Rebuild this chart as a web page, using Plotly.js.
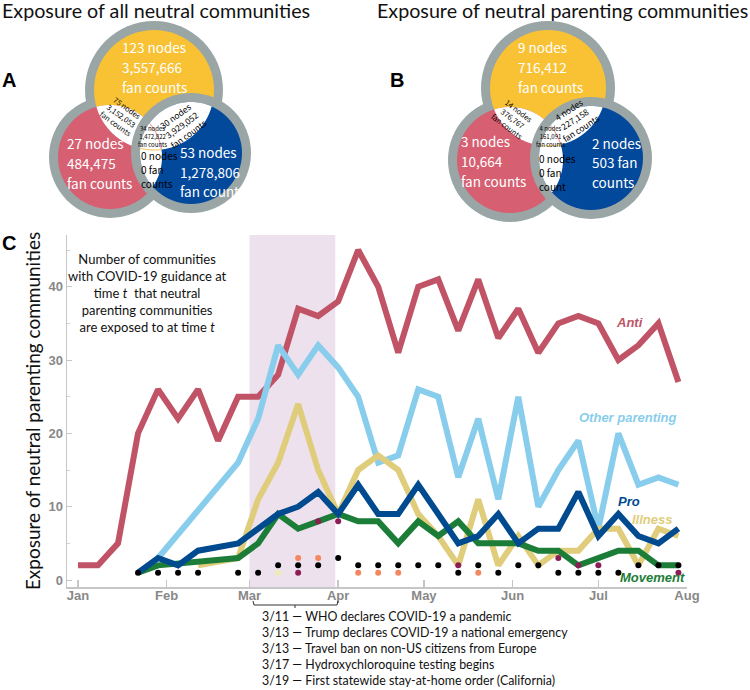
<!DOCTYPE html>
<html>
<head>
<meta charset="utf-8">
<script src="https://cdn.plot.ly/plotly-3.0.1.min.js"></script>
<style>html,body{margin:0;padding:0;background:#fff;}#chart{width:750px;height:690px;}</style>
</head>
<body>
<div id="chart"></div>
<script>
// ---------------- DATA ----------------
const weeks = ['2020-01-01','2020-01-08','2020-01-15','2020-01-22','2020-01-29','2020-02-05','2020-02-12','2020-02-19','2020-02-26','2020-03-04','2020-03-11','2020-03-18','2020-03-25','2020-04-01','2020-04-08','2020-04-15','2020-04-22','2020-04-29','2020-05-06','2020-05-13','2020-05-20','2020-05-27','2020-06-03','2020-06-10','2020-06-17','2020-06-24','2020-07-01','2020-07-08','2020-07-15','2020-07-22','2020-07-29'];
const anti           = [2,2,5,20,26,22,26,19,25,25,28,37,36,38,45,40,31,40,41,34,41,33,37,31,35,36,35,30,32,35,27];
const otherParenting = [null,null,null,null,3,null,null,null,16,22,32,28,32,29,25,16,17,26,25,14,22,11,25,10,15,19,7,20,13,14,13];
const illness        = [null,null,null,null,null,null,2,null,3,11,16,24,15,9,15,17,15,9,6,2,11,2,6,2,4,4,7,7,2,7,6];
const pro            = [null,null,null,1,3,2,4,null,5,7,9,10,12,9,13,9,9,13,9,5,6,9,5,7,7,12,6,9,6,5,7];
const movement       = [null,null,null,1,2,null,null,null,3,5,9,7,8,9,8,8,5,8,6,8,5,5,5,4,4,2,3,4,4,2,2];
const blackDots  = [null,null,null,1,1,1,1,null,1,1,2,2,2,3,2,2,2,2,2,1,2,1,2,2,1,1,1,1,2,2,2];
const orangeDots = [null,null,null,null,null,null,null,null,null,null,null,3,3,null,1,1,1,null,null,null,1,null,null,null,null,null,null,null,null,null,null];
const purpleDots = [null,null,null,null,null,null,null,null,null,null,null,1,8,8,null,null,null,null,null,2,null,null,null,null,3,2,2,null,null,null,1];
const creamDots  = [null,null,null,null,null,null,null,null,null,null,1,null,null,null,null,null,null,null,null,null,null,null,null,null,null,null,null,null,null,null,null];
const monthTicks = ['2020-01-01','2020-02-01','2020-03-01','2020-04-01','2020-05-01','2020-06-01','2020-07-01','2020-08-01'];
const monthLabels = ['Jan','Feb','Mar','Apr','May','Jun','Jul','Aug'];
const yTicks = [0,10,20,30,40];
const eventDates = ['3/11','3/13','3/13','3/17','3/19'];
const eventTexts = ['WHO declares COVID-19 a pandemic','Trump declares COVID-19 a national emergency','Travel ban on non-US citizens from Europe','Hydroxychloroquine testing begins','First statewide stay-at-home order (California)'];
// Venn labels
const vennA = {title:'Exposure of all neutral communities', yellow:'123 nodes<br>3,557,666<br>fan counts', red:'27 nodes<br>484,475<br>fan counts', blue:'53 nodes<br>1,278,806<br>fan counts', yr:'75 nodes<br>3,152,053<br>fan counts', yb:'30 nodes<br>3,929,052<br>fan counts', yrb:'34 nodes<br>1,472,822<br>fan counts', rb:'0 nodes<br>0 fan<br>counts'};
const vennB = {title:'Exposure of neutral parenting communities', yellow:'9 nodes<br>716,412<br>fan counts', red:'3 nodes<br>10,664<br>fan counts', blue:'2 nodes<br>503 fan<br>counts', yr:'14 nodes<br>376,767<br>fan counts', yb:'4 nodes<br>227,158<br>fan counts', yrb:'4 nodes<br>161,091<br>fan counts', rb:'0 nodes<br>0 fan<br>count'};

// ---------------- STYLE / GEOMETRY ----------------
const PL=67, PR=687, PT=235, PB=587;
const px = X => (X-PL)/(PR-PL);
const py = Y => (PB-Y)/(PB-PT);
const C = {anti:'#c05466', other:'#89cdec', ill:'#e0cd7c', pro:'#004a8f', mov:'#1b7d37',
           vy:'#f8c234', vr:'#d65f72', vb:'#02489b', ring:'#9aa5a6'};
const txtFont = 'Lato, "Open Sans", sans-serif';
const vennFont = '"Liberation Sans Narrow", "Noto Sans CJK SC", Lato, sans-serif';
const boldFont = '"Liberation Sans", Arial, sans-serif';

function inside(p,c){return Math.hypot(p[0]-c.x,p[1]-c.y) <= c.r+1e-9;}
function toPath(pts, close){
  return pts.map((p,i)=>(i?'L':'M')+px(p[0]).toFixed(5)+','+py(p[1]).toFixed(5)).join(' ')+(close?' Z':'');
}
function lensPath(a,b){
  const pts=[]; const N=720;
  for(let i=0;i<N;i++){const t=i/N*2*Math.PI;
    const p=[a.x+a.r*Math.cos(t),a.y+a.r*Math.sin(t)]; if(inside(p,b)) pts.push(p);
    const q=[b.x+b.r*Math.cos(t),b.y+b.r*Math.sin(t)]; if(inside(q,a)) pts.push(q);}
  const cx=pts.reduce((s,p)=>s+p[0],0)/pts.length, cy=pts.reduce((s,p)=>s+p[1],0)/pts.length;
  pts.sort((m,n)=>Math.atan2(m[1]-cy,m[0]-cx)-Math.atan2(n[1]-cy,n[0]-cx));
  return toPath(pts,true);
}
function arcPath(c, others){
  const N=720, P=[], F=[];
  for(let i=0;i<N;i++){const t=i/N*2*Math.PI; const p=[c.x+c.r*Math.cos(t),c.y+c.r*Math.sin(t)];
    P.push(p); F.push(others.every(o=>inside(p,o)));}
  let s=F.indexOf(false); const runs=[]; let cur=null;
  for(let k=0;k<=N;k++){const i=(s+k)%N; if(F[i]){if(!cur){cur=[];runs.push(cur);} cur.push(P[i]);} else cur=null;}
  return runs.map(r=>toPath(r,false)).join(' ');
}
function disk(c,color){return {type:'circle',xref:'paper',yref:'paper',layer:'above',x0:px(c.x-c.r),x1:px(c.x+c.r),y0:py(c.y+c.r),y1:py(c.y-c.r),fillcolor:color,line:{width:0}};}
function pathShape(d,fill,lineColor,lw){return {type:'path',xref:'paper',yref:'paper',layer:'above',path:d,fillcolor:fill||'rgba(0,0,0,0)',line:{color:lineColor||'rgba(0,0,0,0)',width:lw||0}};}

function venn(g){
  const ring=9;
  const Yo={x:g.y[0],y:g.y[1],r:g.y[2]}, Ro={x:g.r[0],y:g.r[1],r:g.r[2]}, Bo={x:g.b[0],y:g.b[1],r:g.b[2]};
  const Yi={x:Yo.x,y:Yo.y,r:Yo.r-ring}, Ri={x:Ro.x,y:Ro.y,r:Ro.r-ring}, Bi={x:Bo.x,y:Bo.y,r:Bo.r-ring};
  return [
    disk(Yo,C.ring), disk(Ro,C.ring), disk(Yi,C.vy), disk(Ri,C.vr),
    pathShape(lensPath(Yi,Ri),'#ffffff'),
    disk(Bo,C.ring), disk(Bi,C.vb),
    pathShape(lensPath(Bi,Yi),'#ffffff'), pathShape(lensPath(Bi,Ri),'#ffffff'),
    pathShape(arcPath(Ri,[Bi,Yi]),null,'#e46a7c',1),
    pathShape(arcPath(Yi,[Bi,Ri]),null,'#f2bc2c',1)
  ];
}
const geomA = {y:[154,90,69], r:[110,157,61], b:[191,153,60]};
const geomB = {y:[548,88,67], r:[510,160,62], b:[591,158,61]};

function ann(X,Y,text,opt){
  opt=opt||{};
  return Object.assign({xref:'paper',yref:'paper',x:px(X),y:py(Y),text:text,showarrow:false,
    xanchor:'center',yanchor:'middle',align:'center',borderpad:0,
    font:{family:txtFont,size:13,color:'#000'}},opt);
}
// one annotation per line so the line spacing can follow the reference
function lines(X,Y0,dy,text,font){
  return text.split('<br>').map((t,i)=>ann(X,Y0+i*dy,t,{xanchor:'left',align:'left',font:font}));
}
function vennAnns(v,p){
  const wf={family:vennFont,size:13.5,color:'#fff'};
  const bf=(s)=>({family:vennFont,size:s,color:'#000'});
  return [
    ann(p.title[0],p.title[1],v.title,{font:{family:txtFont,size:19.7,color:'#111'}})
  ].concat(
    lines(p.yellow[0],p.yellow[1],20,v.yellow,wf),
    lines(p.red[0],p.red[1],20,v.red,wf),
    lines(p.blue[0],p.blue[1],19.5,v.blue,wf),
    lines(p.rb[0],p.rb[1],14,v.rb,bf(10)),
    [ann(p.yrb[0],p.yrb[1],v.yrb,{font:bf(6)}),
     ann(p.yr[0],p.yr[1],v.yr,{font:bf(7.5),textangle:p.yrA}),
     ann(p.yb[0],p.yb[1],v.yb,{font:bf(8.5),textangle:p.ybA})]
  );
}
const posA = {title:[156,10], yellow:[121,47], red:[66,143], blue:[179,152], rb:[140,155], yrb:[152,136], yr:[121,116], yrA:36, yb:[181,125], ybA:-36};
const posB = {title:[562,10], yellow:[517,47], red:[460,141], blue:[591,143], rb:[538,158], yrb:[550,136], yr:[513,118], yrA:37, yb:[574,119], ybA:-33};

// ---------------- TRACES ----------------
function lineTrace(name,y,color){return {type:'scatter',mode:'lines',name:name,x:weeks,y:y,connectgaps:true,
  line:{color:color,width:6,shape:'linear'},hoverinfo:'x+y+name'};}
function dotTrace(name,y,color){return {type:'scatter',mode:'markers',name:name,x:weeks,y:y,
  marker:{color:color,size:6,line:{width:0}}};}
const traces = [
  lineTrace('Anti',anti,C.anti),
  lineTrace('Other parenting',otherParenting,C.other),
  lineTrace('Illness',illness,C.ill),
  lineTrace('Movement',movement,C.mov),
  lineTrace('Pro',pro,C.pro),
  dotTrace('black',blackDots,'#000000'),
  dotTrace('orange',orangeDots,'#f3875f'),
  dotTrace('purple',purpleDots,'#8c1d55'),
  dotTrace('cream',creamDots,'#ecebb4')
];

// ---------------- LAYOUT ----------------
const shapes = [
  {type:'rect',xref:'x',yref:'paper',x0:'2020-03-01',x1:'2020-03-31',y0:0,y1:1,fillcolor:'#ede1ee',line:{width:0},layer:'below'},
  pathShape('M'+px(253)+','+py(601)+' L'+px(254)+','+py(605)+' L'+px(337)+','+py(605)+' L'+px(338)+','+py(601)+' M'+px(295)+','+py(605)+' L'+px(295)+','+py(608),null,'#333',1)
].concat(venn(geomA), venn(geomB));

const labelFont = (c)=>({family:boldFont,size:13,color:c,weight:'bold',style:'italic'});
const panelFont = {family:boldFont,size:20,color:'#000',weight:'bold'};
const annotations = [
  ann(9,80,'A',{font:panelFont}),
  ann(397,80,'B',{font:panelFont}),
  ann(9,243,'C',{font:panelFont}),
  ann(147,293,'Number of communities<br>with COVID-19 guidance at<br>time <i>t</i>  that neutral<br>parenting communities<br>are exposed to at time <i>t</i>',{font:{family:txtFont,size:13,color:'#111'}}),
  ann(629,322,'Anti',{font:labelFont(C.anti)}),
  ann(628,417,'Other parenting',{font:labelFont(C.other)}),
  ann(629,501,'Pro',{font:labelFont(C.pro)}),
  ann(652,519,'Illness',{font:labelFont(C.ill)}),
  ann(652,577,'Movement',{font:labelFont(C.mov)}),
  ann(261,608,eventDates.map((d,i)=>d+' — '+eventTexts[i]).join('<br>'),{xanchor:'left',yanchor:'top',align:'left',font:{family:txtFont,size:12.4,color:'#111'}})
].concat(vennAnns(vennA,posA), vennAnns(vennB,posB));

const layout = {
  width:750, height:690,
  margin:{l:PL,r:750-PR,t:PT,b:690-PB,pad:0},
  paper_bgcolor:'#ffffff', plot_bgcolor:'rgba(0,0,0,0)',
  showlegend:false,
  xaxis:{type:'date',range:['2019-12-28 03:50','2020-08-01'],tickvals:monthTicks,ticktext:monthLabels,
    ticks:'inside',ticklen:7,tickcolor:'#c6c6c6',tickwidth:1.5,showline:true,linecolor:'#c6c6c6',linewidth:1.5,
    ticklabelstandoff:-4,
    showgrid:false,zeroline:false,tickfont:{family:boldFont,size:13,color:'#888',weight:'bold'}},
  yaxis:{range:[-0.95,47.05],tickvals:yTicks,ticks:'inside',ticklen:5,tickcolor:'#c6c6c6',tickwidth:1,
    minor:{ticks:'inside',ticklen:3,dtick:5,tickcolor:'#d0d0d0',showgrid:false},
    showline:true,linecolor:'#c6c6c6',linewidth:1.5,showgrid:false,zeroline:false,
    tickfont:{family:boldFont,size:13,color:'#888',weight:'bold'},
    title:{text:'Exposure of neutral parenting communities',font:{family:txtFont,size:19,color:'#111'},standoff:3}},
  shapes:shapes,
  annotations:annotations
};
Plotly.newPlot('chart',traces,layout,{displayModeBar:false,staticPlot:true});
</script>
</body>
</html>
